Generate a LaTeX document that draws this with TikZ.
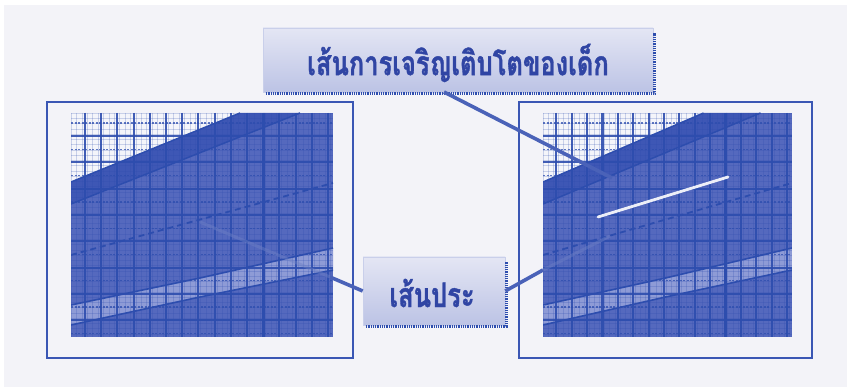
\documentclass[tikz,border=0pt]{standalone}
\usepackage{fontspec}
\newfontfamily\thaifont[Script=Thai, BoldFeatures={FakeBold=1.2}]{Loma}
\usetikzlibrary{calc}
\definecolor{bgc}{HTML}{F3F3F8}
\definecolor{gwhite}{HTML}{F4F5FA}
\definecolor{gfill}{HTML}{5569BE}
\definecolor{gband}{HTML}{3E57B5}
\definecolor{glight}{HTML}{8E9BD6}
\definecolor{gline}{HTML}{2D4DAE}
\definecolor{framec}{HTML}{3A56B4}
\definecolor{txtc}{HTML}{3045A4}
\definecolor{connc}{HTML}{4A62B8}
\definecolor{lblA}{HTML}{E4E6F4}
\definecolor{lblB}{HTML}{BCC3E5}
\tikzset{
  fineline/.style={gline, opacity=0.22, line width=0.5pt},
  vline/.style={gline, line width=2.1pt, opacity=0.9},
  hthick/.style={gline, line width=2.1pt, opacity=0.9},
  hdash/.style={gline, line width=1.3pt, opacity=0.75, dash pattern=on 2pt off 1.5pt},
  chartframe/.style={draw=framec, line width=2.3pt},
  labelbox/.style={top color=lblA, bottom color=lblB, draw=lblB!80!white, line width=0.6pt, inner sep=0pt},
  shadowline/.style={gline, line width=3pt, dash pattern=on 1pt off 0.8pt},
  conn/.style={connc, line width=3.6pt},
  connfaint/.style={connc!80!white, line width=3pt, opacity=0.45},
  thaitxt/.style={text=txtc, font=\thaifont\bfseries},
}
\newcommand\growthchart{%
  \begin{scope}
    \clip (0,0) rectangle (262,224);
    \fill[gfill] (0,0) rectangle (262,224);
    \fill[gwhite] (0,0) -- (169,0) -- (0,69) -- cycle;
    \fill[gband] (0,69) -- (169,0) -- (229,0) -- (0,91) -- cycle;
    \fill[glight] (0,192) -- (129,165) -- (262,135) -- (262,157) -- (129,184) -- (0,212) -- cycle;
    \foreach \i in {0,...,49} \draw[fineline] ({\i*5.4},0) -- ++(0,224);
    \foreach \j in {0,...,43} \draw[fineline] (0,{\j*5.26}) -- ++(262,0);
    \foreach \k in {0,...,15} \draw[vline] ({14+16.2*\k},0) -- ++(0,224);
    \draw[gline, line width=3pt] (192.2,0) -- ++(0,224);
    \foreach \k in {0,...,8} \draw[hthick] (0,{23.15+26.3*\k}) -- ++(262,0);
    \foreach \k in {0,...,8} \draw[hdash] (0,{10+26.3*\k}) -- ++(262,0);
    \draw[gline, line width=1.5pt] (0,91) -- (229,0);
    \draw[gline, line width=1.5pt] (0,69) -- (169,0);
    \draw[gline, line width=1.8pt, dash pattern=on 6pt off 4pt] (0,142) -- (262,70);
    \draw[gline, line width=1.6pt] (0,192) -- (129,165) -- (262,135);
    \draw[gline, line width=1.6pt] (0,212) -- (129,184) -- (262,157);
  \end{scope}}
\begin{document}
\begin{tikzpicture}[x=1pt, y=-1pt]
  \useasboundingbox (0,0) rectangle (847,387);
  \fill[white] (0,0) rectangle (847,387);
  \fill[bgc] (4,5) rectangle (847,387);
  % charts
  \begin{scope}[shift={(71,113)}]
    \growthchart
  \end{scope}
  \begin{scope}[shift={(543,113)}, xscale=0.95]
    \growthchart
  \end{scope}
  % frames
  \draw[chartframe] (47,102) rectangle (353,358);
  \draw[chartframe] (519,102) rectangle (812,358);
  % white line in right chart
  \coordinate (w1) at (598,217);
  \coordinate (w2) at (728,177);
  \draw[white, line width=2.8pt, line cap=round, opacity=0.9] (w1) -- (w2);
  % labels
  \node[labelbox, minimum width=390pt, minimum height=64pt] (top) at (458,60) {};
  \node[thaitxt] (toptxt) at (458,63) {\fontsize{26}{30}\selectfont\scalebox{0.98}[1.3]{เส้นการเจริญเติบโตของเด็ก}};
  \node[labelbox, minimum width=142pt, minimum height=68pt] (dash) at (434,291) {};
  \node[thaitxt] (dashtxt) at (432,293) {\fontsize{26}{30}\selectfont\scalebox{0.98}[1.3]{เส้นประ}};
  % shadows
  \draw[shadowline] ($(top.south west)+(3,1.5)$) -- ($(top.south east)+(1.5,1.5)$) -- ($(top.north east)+(1.5,5)$);
  \draw[shadowline] ($(dash.south west)+(3,1.5)$) -- ($(dash.south east)+(1.5,1.5)$) -- ($(dash.north east)+(1.5,5)$);
  % connectors
  \coordinate (t1) at (444,92);
  \coordinate (t2) at (612,178);
  \draw[conn] (t1) -- (t2);
  \coordinate (l1) at (330,277);
  \coordinate (l2) at (200,222);
  \draw[connfaint] (l1) -- (l2);
  \draw[conn] (dash.west) -- (l1);
  \coordinate (r1) at (543,270);
  \coordinate (r2) at (610,236);
  \draw[connfaint] (r1) -- (r2);
  \draw[conn] (dash.east) -- (r1);
\end{tikzpicture}
\end{document}
